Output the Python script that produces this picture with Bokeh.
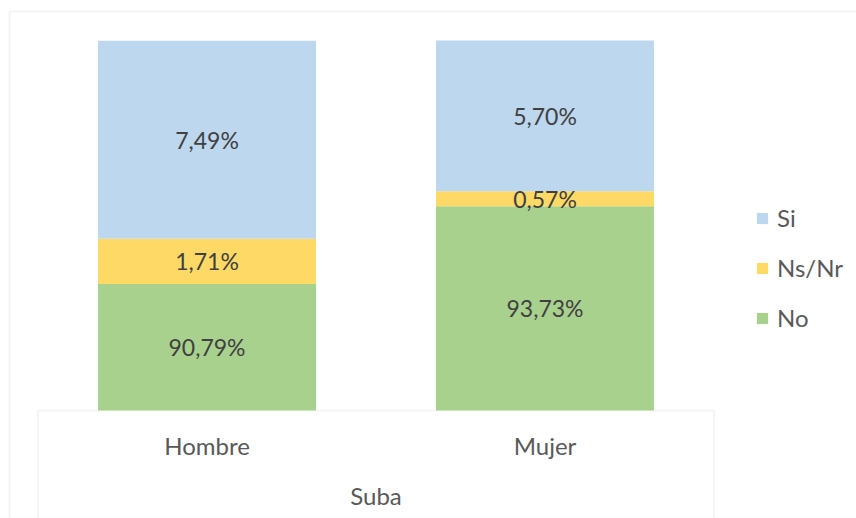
from bokeh.plotting import figure
from bokeh.models import Range1d, ColumnDataSource, Legend, LegendItem, BoxAnnotation, Node
from bokeh.core.properties import value
from bokeh.embed import file_html
from bokeh.resources import INLINE

group = "Suba"
categories = ["Hombre", "Mujer"]
series = ["No", "Ns/Nr", "Si"]
no_vals = [0.9079, 0.9373]
nsnr_vals = [0.0171, 0.0057]
si_vals = [0.0749, 0.0570]
colors = ["#A9D18E", "#FFD966", "#BDD7EE"]
axis_min = 0.86
axis_max = 1.0

FONT = "Lato"
LABEL_COLOR = "#404040"
AXIS_COLOR = "#595959"
LINE_COLOR = "#D9D9D9"

# category positions on the numeric scale (one unit per category)
xpos = [i + 0.5 for i in range(len(categories))]

p = figure(width=856, height=518, output_backend="svg", toolbar_location=None,
           x_range=Range1d(-0.111, 2.4216), y_range=Range1d(0.81914, 1.01514),
           x_axis_location=None, y_axis_location=None,
           min_border=0)
p.outline_line_color = None
p.xgrid.visible = False
p.ygrid.visible = False
p.background_fill_color = "white"
p.border_fill_color = "white"

# stacked bars, starting at the axis minimum
bottoms = [axis_min] * len(categories)
renderers = []
lab_x, lab_y, lab_t = [], [], []
for name, vals, col in zip(series, (no_vals, nsnr_vals, si_vals), colors):
    tops = []
    for i, v in enumerate(vals):
        start = bottoms[i]
        top = (no_vals[i] if name == "No" else start + v)
        tops.append(top)
        lab_x.append(xpos[i])
        lab_y.append((start + top) / 2)
        lab_t.append(f"{v * 100:.2f}".replace(".", ",") + "%")
    src = ColumnDataSource({"x": xpos, "bottom": bottoms, "top": tops})
    r = p.vbar(x="x", bottom="bottom", top="top", width=0.645, fill_color=col,
               line_color=None, source=src)
    renderers.append(r)
    bottoms = tops

p.text(x=lab_x, y=lab_y, text=lab_t, text_align="center", text_baseline="middle",
       text_font=value(FONT), text_font_size="23px", text_color=LABEL_COLOR)

# category table below the bars
table_box = BoxAnnotation(left=0, right=len(categories), top=axis_min,
                          bottom=Node(target="frame", symbol="bottom", offset=30),
                          fill_color=None, line_color=LINE_COLOR, line_width=2, level="underlay")
p.add_layout(table_box)
p.text(x=xpos, y=[axis_min] * len(categories), text=categories, y_offset=35,
       text_align="center", text_baseline="middle",
       text_font=value(FONT), text_font_size="24px", text_color=AXIS_COLOR)
p.text(x=[len(categories) / 2], y=[axis_min], text=[group], y_offset=85,
       text_align="center", text_baseline="middle",
       text_font=value(FONT), text_font_size="24px", text_color=AXIS_COLOR)

# outer chart-area border
outer_box = BoxAnnotation(left=Node(target="frame", symbol="left", offset=9),
                          right=Node(target="frame", symbol="right", offset=30),
                          top=Node(target="frame", symbol="top", offset=11),
                          bottom=Node(target="frame", symbol="bottom", offset=30),
                          fill_color=None, line_color=LINE_COLOR, line_width=2, level="underlay")
p.add_layout(outer_box)

items = [LegendItem(label=s, renderers=[r]) for s, r in zip(series, renderers)][::-1]
legend = Legend(items=items, location=(755, 186), padding=0, margin=0, border_line_color=None,
                background_fill_alpha=0, glyph_width=14, glyph_height=14, label_standoff=8,
                label_height=28, spacing=21, label_text_font=FONT, label_text_font_size="24px",
                label_text_color=AXIS_COLOR)
p.add_layout(legend)

open("out.html", "w").write(file_html(p, INLINE))
